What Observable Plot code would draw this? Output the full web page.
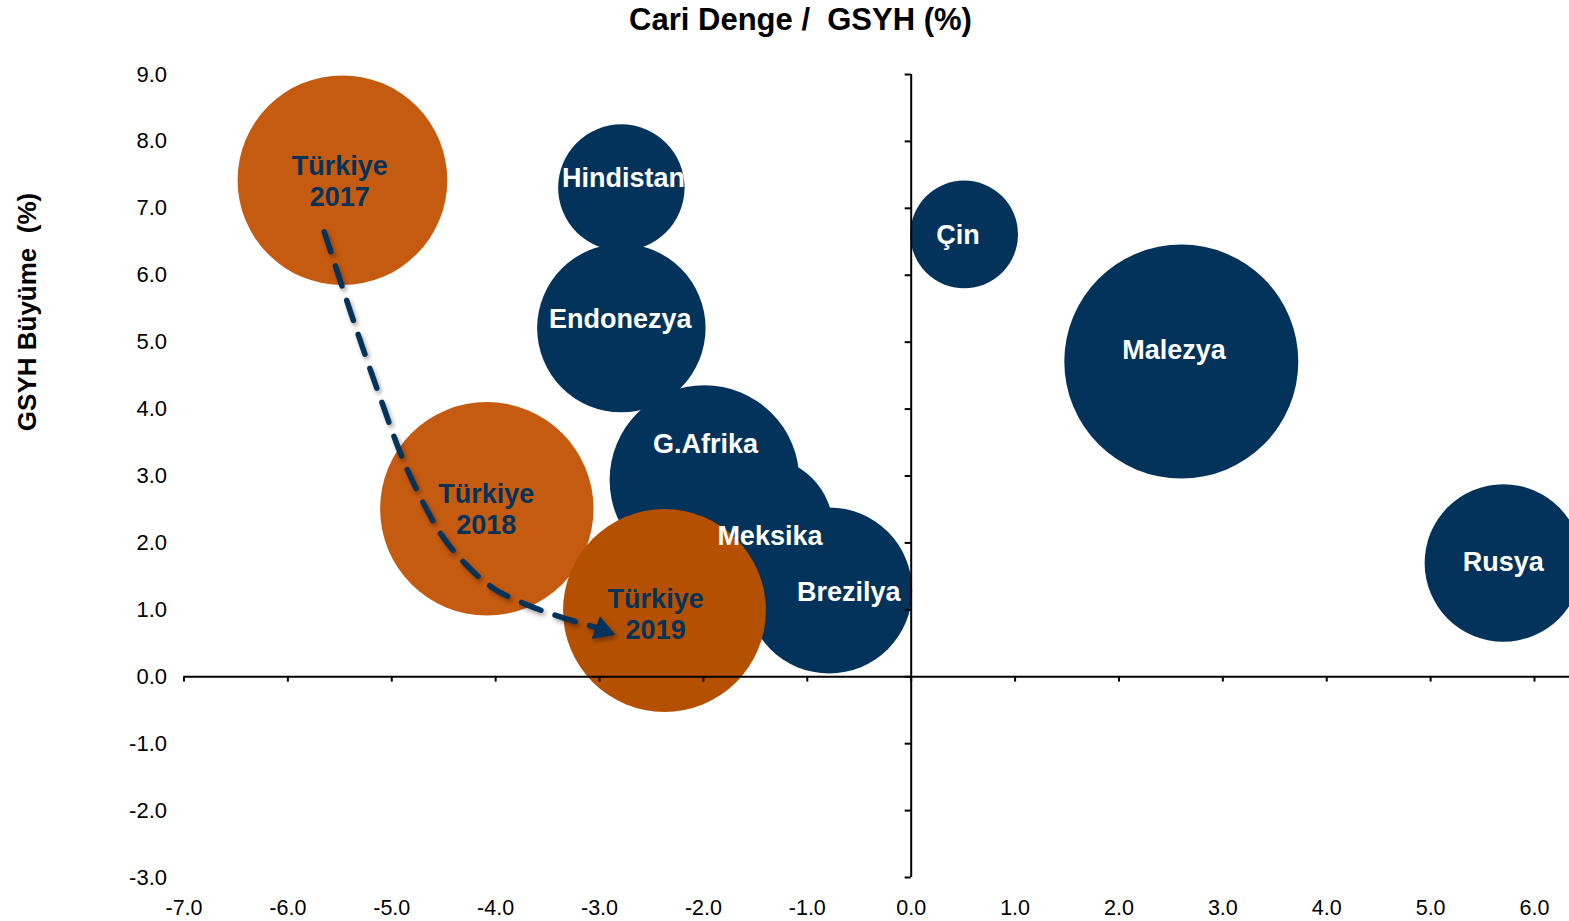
<!DOCTYPE html>
<html><head><meta charset="utf-8">
<script src="https://cdn.jsdelivr.net/npm/d3@7"></script>
<script src="https://cdn.jsdelivr.net/npm/@observablehq/plot@0.6"></script>
<style>html,body{margin:0;padding:0;background:#fff;overflow:hidden}</style>
</head><body><div id="chart"></div>
<script>
// ---- data ----
const titleText = "Cari Denge /  GSYH (%)";
const yTitleText = "GSYH Büyüme  (%)";
const xTicks = [-7, -6, -5, -4, -3, -2, -1, 0, 1, 2, 3, 4, 5, 6];
const yTicks = [-3, -2, -1, 0, 1, 2, 3, 4, 5, 6, 7, 8, 9];

const countries     = ["Hindistan", "Endonezya", "G.Afrika", "Meksika", "Brezilya", "Çin", "Malezya", "Rusya"];
const countryCA     = [-2.79, -2.79, -1.99, -1.45, -0.79, 0.51, 2.60, 5.70];
const countryGrowth = [7.31, 5.21, 2.94, 2.20, 1.29, 6.61, 4.71, 1.70];
const countrySize   = [4.0, 7.1, 9.0, 5.3, 6.9, 2.9, 13.7, 6.2];
const countryLabelX = [-2.77, -2.80, -1.98, -1.36, -0.60, 0.45, 2.53, 5.70];
const countryLabelY = [7.45, 5.34, 3.47, 2.10, 1.26, 6.60, 4.88, 1.71];

const turkeyYears  = ["2017", "2018", "2019"];
const turkeyCA     = [-5.475, -4.085, -2.375];
const turkeyGrowth = [7.42, 2.51, 0.99];
const turkeySize   = [11.0, 11.4, 10.3];
const turkeyLabelX = [-5.50, -4.09, -2.46];
const turkeyLabelY = [7.42, 2.52, 0.95];

const pathX = [-5.65, -5.36, -5.12, -4.86, -4.53, -4.30, -4.02, -3.69, -3.37, -3.02];
const pathY = [6.65, 5.28, 4.21, 3.13, 2.14, 1.70, 1.32, 1.07, 0.89, 0.73];
const headX = [-2.973];
const headY = [0.698];

// ---- styles ----
const navy = "#03335A";
const turkeyColors = ["#C55A11", "#C55A11", "#B45000"];
const font = "'Liberation Sans', Arial, Helvetica, sans-serif";

const countryData = countries.map((name, i) => ({name, x: countryCA[i], y: countryGrowth[i], size: countrySize[i], lx: countryLabelX[i], ly: countryLabelY[i]}));
const turkeyData = turkeyYears.map((yr, i) => ({name: "Türkiye\n" + yr, x: turkeyCA[i], y: turkeyGrowth[i], size: turkeySize[i], lx: turkeyLabelX[i], ly: turkeyLabelY[i], color: turkeyColors[i]}));
const pathData = pathX.map((x, i) => ({x, y: pathY[i]}));
const headData = headX.map((x, i) => ({x, y: headY[i]}));

const chart = Plot.plot({
  width: 1569,
  height: 921,
  marginLeft: 183.5,
  marginRight: 35,
  marginTop: 74,
  marginBottom: 44,
  x: {domain: [-7, 6]},
  y: {domain: [-3, 9]},
  r: {type: "sqrt", domain: [0, 13.7], range: [0, 117]},
  color: {type: "identity"},
  style: {fontFamily: font, background: "white", color: "black"},
  marks: [
    Plot.dot(countryData, {x: "x", y: "y", r: "size", fill: navy, stroke: null, sort: null}),
    Plot.dot(turkeyData, {x: "x", y: "y", r: "size", fill: "color", stroke: null, sort: null}),
    // axis lines
    Plot.ruleY([0], {x1: -7, x2: 6.4, stroke: "black", strokeWidth: 2}),
    Plot.ruleX([0], {y1: -3, y2: 9, stroke: "black", strokeWidth: 2}),
    Plot.ruleY(yTicks, {x1: -0.058, x2: 0, stroke: "black", strokeWidth: 2}),
    Plot.ruleX(xTicks, {y1: 0, y2: -0.08, stroke: "black", strokeWidth: 2}),
    Plot.axisY({ticks: yTicks, tickFormat: d => d.toFixed(1), tickSize: 0, tickPadding: 17, fontSize: 22, label: null}),
    Plot.axisX({ticks: xTicks, tickFormat: d => d.toFixed(1), tickSize: 0, tickPadding: 22, fontSize: 21.5, label: null}),
    // labels
    Plot.text(countryData, {x: "lx", y: "ly", text: "name", fill: "white", fontSize: 27, fontWeight: "bold"}),
    Plot.text(turkeyData, {x: "lx", y: "ly", text: "name", fill: navy, fontSize: 27, fontWeight: "bold", lineHeight: 1.15}),
    // dashed arrow
    Plot.line(pathData, {x: "x", y: "y", stroke: navy, strokeWidth: 5.5, strokeDasharray: "21,15", curve: "catmull-rom", imageFilter: "drop-shadow(2px 3px 2px rgba(0,0,0,0.35))"}),
    Plot.dot(headData, {x: "x", y: "y", symbol: "triangle", r: 9, fill: navy, stroke: null, rotate: 110, imageFilter: "drop-shadow(2px 3px 2px rgba(0,0,0,0.35))"}),
    // titles
    Plot.text([titleText], {frameAnchor: "top", dx: -58.75, dy: -66.7, lineAnchor: "top", fontSize: 31, fontWeight: "bold", fill: "black"}),
    Plot.text([yTitleText], {frameAnchor: "left", textAnchor: "middle", dx: -156.5, dy: -164, rotate: -90, fontSize: 26, fontWeight: "bold", fill: "black"})
  ]
});
document.getElementById("chart").appendChild(chart);
</script>
</body></html>
